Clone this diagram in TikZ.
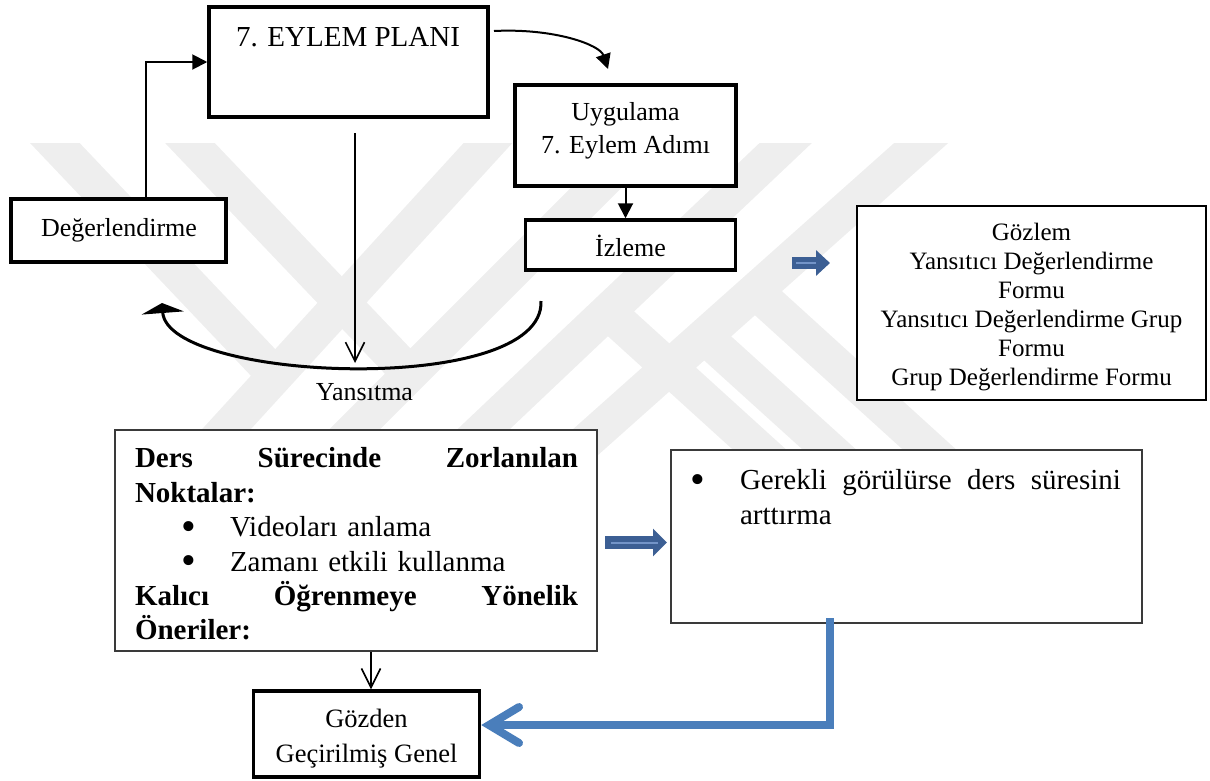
\documentclass[tikz,border=0pt]{standalone}
\usepackage{fontspec}
\usepackage{graphicx}
\setmainfont{Liberation Serif}
\usetikzlibrary{arrows.meta,calc}

\definecolor{navyarrow}{HTML}{3C5F94}
\definecolor{navystripe}{HTML}{7394C8}
\definecolor{linkblue}{HTML}{4A7EBB}
\definecolor{thinedge}{HTML}{3A3A3A}
\definecolor{markgrey}{HTML}{EEEEEE}

\newcommand\fsTitle{\fontsize{29}{34}\selectfont}
\newcommand\fsBox{\fontsize{26}{33}\selectfont}
\newcommand\fsGoz{\fontsize{25}{29}\selectfont}
\newcommand\fsBig{\fontsize{29}{34.4}\selectfont}
\newcommand\fsGdn{\fontsize{26.5}{35}\selectfont}
% a line of words spread over the full width
\newcommand\spreadline[2]{\makebox[#1][l]{#2}}
% list bullet, a little larger than the font's own
\newcommand\bigdot{\makebox[0pt]{\raisebox{-0.13em}{\scalebox{1.45}{\textbullet}}}}

\begin{document}
\begin{tikzpicture}[x=1pt,y=-1pt,
  thickbox/.style={draw, fill=white, line width=3.5pt, inner sep=0pt, rectangle},
  thinbox/.style={draw=thinedge, fill=white, line width=1.8pt, inner sep=0pt, rectangle},
  lbl/.style={inner sep=0pt, align=center},
  solidtip/.style={-{Triangle[length=15pt,width=15pt]}, line width=2pt},
  opentip/.style={-{Straight Barb[length=19pt,width=19pt]}, line width=1.6pt},
  blockarrow/.style={draw=navyarrow, line width=13pt, -{Triangle[length=14pt,width=27pt]}},
  smallblock/.style={draw=navyarrow, line width=12pt, -{Triangle[length=14pt,width=25pt]}},
  stripe/.style={draw=navystripe, line width=2pt},
  bluelink/.style={draw=linkblue, line width=8pt, -{Straight Barb[length=30pt,width=36pt,line cap=round]}},
  band/.style={draw=markgrey, line width=36pt, line cap=butt},
]
\useasboundingbox (0,0) rectangle (1210,780);

% faint background emblem made of diagonal bands
\begin{scope}
  \clip (0,143) rectangle (1210,462);
  \draw[band] (33,120) -- (275,375);
  \draw[band] (509,120) -- (180,480);
  \draw[band] (168,120) -- (410,374);
  \draw[band] (664,120) -- (304,480);
  \draw[band] (810,120) -- (430,480);
  \draw[band] (947,120) -- (543,480);
  \draw[band] (755,291) -- (963,480);
  \draw[band] (704,336) -- (863,480);
  \draw[band] (608,312) -- (793,480);
\end{scope}

% boxes
\node[thickbox, minimum width=279pt, minimum height=110pt] (plan) at (348.5,62) {};
\node[thickbox, minimum width=215pt, minimum height=63pt]  (deg)  at (118.5,230.5) {};
\node[thickbox, minimum width=221pt, minimum height=101pt] (uyg)  at (625.5,135.5) {};
\node[thickbox, minimum width=210pt, minimum height=50pt]  (izl)  at (630.5,245) {};
\node[draw, fill=white, line width=2.5pt, inner sep=0pt, minimum width=349pt, minimum height=194pt] (goz) at (1031.5,303) {};
\node[thinbox, minimum width=482pt, minimum height=221pt] (ders) at (356,540.5) {};
\node[thinbox, minimum width=471pt, minimum height=173pt] (ger)  at (906.5,536.5) {};
\node[thickbox, minimum width=226pt, minimum height=86pt]  (gdn)  at (366.5,734) {};

% texts
\node[lbl, font=\fsTitle] (planT) at (348,37.5) {7. EYLEM PLANI};
\node[lbl, font=\fsBox] (degT) at (119,230) {Değerlendirme};
\node[lbl, font=\fsBox] (uygT) at (625.5,131) {Uygulama\\7. Eylem Adımı};
\node[lbl, font=\fsBox] (izlT) at (630.5,246) {İzleme};
\node[lbl, font=\fsGoz] (gozT) at (1031.5,307) {Gözlem\\Yansıtıcı Değerlendirme\\Formu\\Yansıtıcı Değerlendirme Grup\\Formu\\Grup Değerlendirme Formu};
\node[lbl, font=\fsBox] (yansT) at (364.5,392) {Yansıtma};
\node[lbl, text width=443pt, align=left, font=\fsBig] (dersT) at (356.5,544) {%
\spreadline{443pt}{\bfseries Ders\hfill Sürecinde\hfill Zorlanılan}\\
\textbf{Noktalar:}\\
\hspace*{54pt}\bigdot\hspace*{41pt}Videoları anlama\\
\hspace*{54pt}\bigdot\hspace*{41pt}Zamanı etkili kullanma\\
\spreadline{443pt}{\bfseries Kalıcı\hfill Öğrenmeye\hfill Yönelik}\\
\textbf{Öneriler:}};
\node[lbl, text width=433pt, align=left, font=\fsBig] (gerT) at (904.5,497) {%
\hspace*{10pt}\bigdot\hspace*{42pt}\spreadline{381pt}{Gerekli\hfill görülürse\hfill ders\hfill süresini}\\
\hspace*{52pt}arttırma};
\node[lbl, font=\fsGdn] (gdnT) at (366.5,739) {Gözden\\Geçirilmiş Genel};

% connector anchors
\coordinate (dx) at (146,0);
\coordinate (dg) at (371,0);
\coordinate (topS) at (494,31);
\coordinate (topE) at (608,69);
\coordinate (yaS) at (355,133);
\coordinate (yaE) at (355,363);
\coordinate (cvS) at (541,301);
\coordinate (cvE) at (162,303);
\coordinate (b1S) at (605,542.5);
\coordinate (b1E) at (667,542.5);
\coordinate (b2S) at (792,263);
\coordinate (b2E) at (830,263);
\coordinate (lkS) at (830,618);

% black connectors
\draw[solidtip] (deg.north -| dx) |- (plan.west);
\draw[solidtip] (topS) .. controls (555,28) and (600,45) .. (topE);
\draw[solidtip] (uyg.south) -- (uyg.south |- izl.north);
\draw[opentip] (yaS) -- (yaE);
\draw[line width=3pt, -{Triangle[length=10pt,width=42pt]}] (cvS) .. controls (545,397) and (168,382) .. (cvE);
\draw[opentip] (ders.south -| dg) -- (gdn.north -| dg);

% blue arrows
\draw[blockarrow] (b1S) -- (b1E);
\draw[stripe] ([xshift=6pt]b1S) -- ([xshift=-9pt]b1E);
\draw[smallblock] (b2S) -- (b2E);
\draw[stripe] ([xshift=4pt]b2S) -- ([xshift=-14pt]b2E);
\draw[bluelink] (lkS) |- ([yshift=9pt]gdn.east);
\end{tikzpicture}
\end{document}
